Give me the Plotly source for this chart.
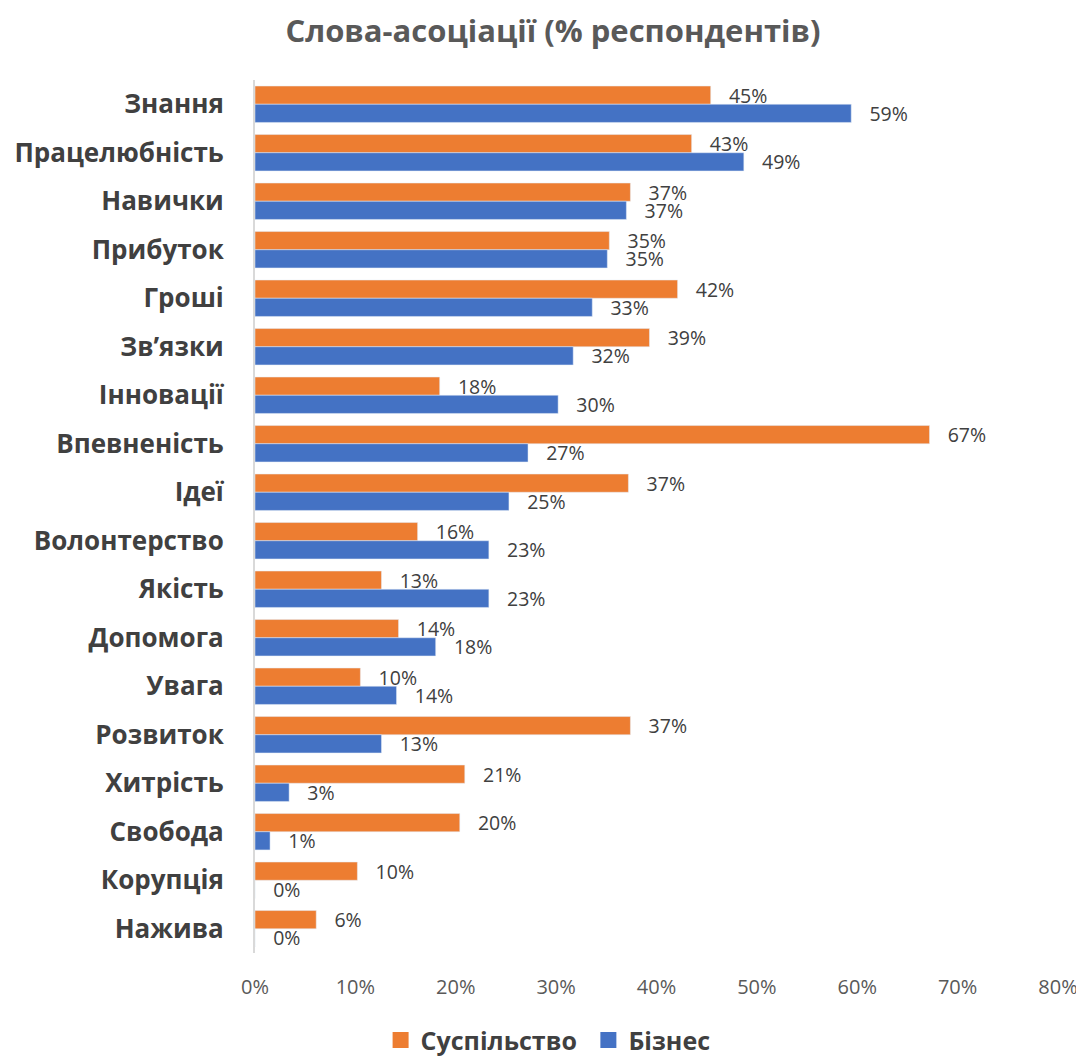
import plotly.graph_objects as go

categories = ["Знання", "Працелюбність", "Навички", "Прибуток", "Гроші", "Зв’язки",
              "Інновації", "Впевненість", "Ідеї", "Волонтерство", "Якість", "Допомога",
              "Увага", "Розвиток", "Хитрість", "Свобода", "Корупція", "Нажива"]
society = [45.4, 43.5, 37.4, 35.3, 42.1, 39.3, 18.4, 67.2, 37.2, 16.2, 12.6, 14.3,
           10.5, 37.4, 20.9, 20.4, 10.2, 6.1]
business = [59.4, 48.7, 37.0, 35.1, 33.6, 31.7, 30.2, 27.2, 25.3, 23.3, 23.3, 18.0,
            14.1, 12.6, 3.4, 1.5, 0.0, 0.0]
society_labels = ["45%", "43%", "37%", "35%", "42%", "39%", "18%", "67%", "37%", "16%",
                  "13%", "14%", "10%", "37%", "21%", "20%", "10%", "6%"]
business_labels = ["59%", "49%", "37%", "35%", "33%", "32%", "30%", "27%", "25%", "23%",
                   "23%", "18%", "14%", "13%", "3%", "1%", "0%", "0%"]
tick_vals = [0, 10, 20, 30, 40, 50, 60, 70, 80]
tick_text = ["0%", "10%", "20%", "30%", "40%", "50%", "60%", "70%", "80%"]

ORANGE = "#ED7D31"
BLUE = "#4472C4"
PAD = "\u00a0\u00a0\u00a0"

fig = go.Figure()
fig.add_trace(go.Bar(
    y=categories, x=society, name="Суспільство", orientation="h",
    marker=dict(color=ORANGE), text=society_labels, textposition="outside",
    texttemplate=PAD + "%{text}",
    textfont=dict(size=19.5, color="#404040", family="Open Sans"),
    constraintext="none", cliponaxis=False, showlegend=False,
))
fig.add_trace(go.Bar(
    y=categories, x=business, name="Бізнес", orientation="h",
    marker=dict(color=BLUE), text=business_labels, textposition="outside",
    texttemplate=PAD + "%{text}",
    textfont=dict(size=19.5, color="#404040", family="Open Sans"),
    constraintext="none", cliponaxis=False, showlegend=False,
))
# legend entries with larger square symbols
for nm, col in [("Суспільство\u00a0", ORANGE), ("Бізнес", BLUE)]:
    fig.add_trace(go.Scatter(
        x=[None], y=[None], mode="markers", name=nm,
        marker=dict(symbol="square", size=20, color=col), showlegend=True,
    ))

fig.update_layout(
    width=1076, height=1050,
    barmode="group", bargap=0.25, bargroupgap=0,
    paper_bgcolor="white", plot_bgcolor="white",
    margin=dict(l=247, r=26, t=72, b=105, autoexpand=False),
    title=dict(text="<b>Слова-асоціації (% респондентів)</b>", x=0.5065, xanchor="center",
               xref="container", y=0.988, yanchor="top",
               font=dict(family="Open Sans", size=31, color="#595959")),
    font=dict(family="Open Sans"),
    xaxis=dict(range=[0, 80], tickvals=tick_vals, ticktext=tick_text, showgrid=False,
               zeroline=False, showline=False, automargin=False,
               tickfont=dict(size=20, color="#595959"), ticks="",
               ticklabelstandoff=20),
    yaxis=dict(autorange="reversed", showgrid=False, showline=True, linecolor="#D9D9D9",
               linewidth=2, ticks="", ticklabelstandoff=24, automargin=False,
               tickfont=dict(size=26, color="#404040", family="Open Sans", weight="bold")),
    legend=dict(orientation="h", x=0.365, xanchor="center",
                y=-0.10, yanchor="middle",
                font=dict(size=25, color="#404040", family="Open Sans", weight="bold"),
                itemwidth=30, tracegroupgap=0),
    showlegend=True,
)

fig.write_html("out.html")
